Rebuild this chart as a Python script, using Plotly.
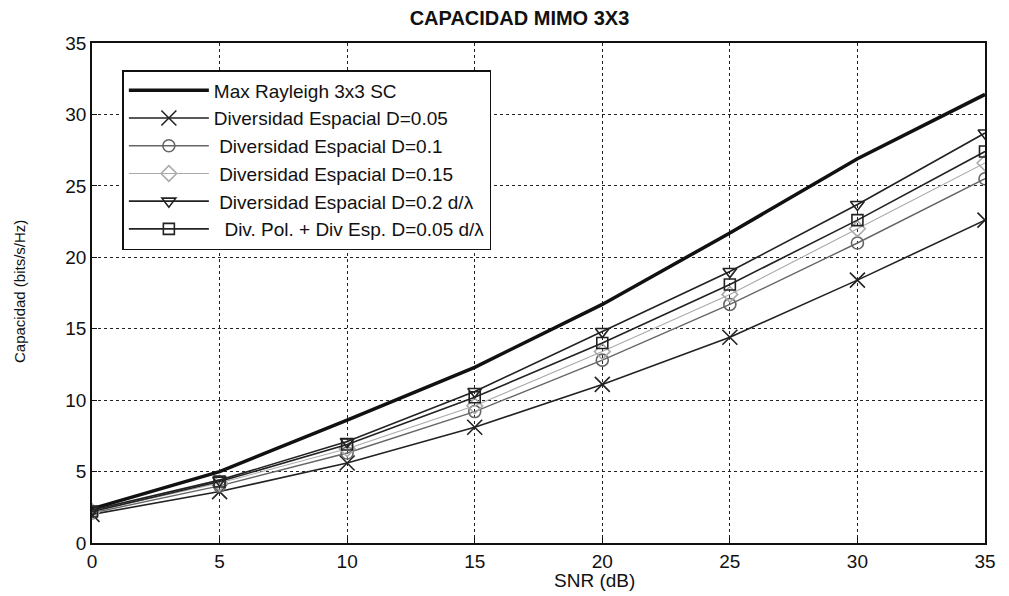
import plotly.graph_objects as go

snr = [0, 5, 10, 15, 20, 25, 30, 35]
max_rayleigh = [2.4, 5.0, 8.6, 12.3, 16.7, 21.7, 26.9, 31.4]
d005 = [2.0, 3.6, 5.6, 8.1, 11.1, 14.4, 18.4, 22.6]
d01 = [2.1, 4.0, 6.3, 9.2, 12.8, 16.7, 21.0, 25.5]
d015 = [2.2, 4.2, 6.6, 9.6, 13.4, 17.4, 22.0, 26.6]
d02 = [2.3, 4.4, 7.1, 10.6, 14.8, 19.0, 23.7, 28.7]
divpol = [2.2, 4.3, 6.9, 10.2, 14.0, 18.1, 22.6, 27.4]

names = [
    "Max Rayleigh 3x3 SC",
    "Diversidad Espacial D=0.05",
    " Diversidad Espacial D=0.1",
    " Diversidad Espacial D=0.15",
    " Diversidad Espacial D=0.2 d/λ",
    "  Div. Pol. + Div Esp. D=0.05 d/λ",
]

fig = go.Figure()
fig.add_trace(go.Scatter(x=snr, y=max_rayleigh, mode="lines", name=names[0],
                         line=dict(color="#111", width=3.5)))
styles = [
    (d005, "x-thin-open", "#222", 1.6, 15),
    (d01, "circle-open", "#666", 1.4, 12),
    (d015, "diamond-open", "#aaa", 1.1, 12),
    (d02, "triangle-down-open", "#222", 1.6, 12),
    (divpol, "square-open", "#222", 1.6, 11),
]
for (ys, sym, col, w, sz), nm in zip(styles, names[1:]):
    fig.add_trace(go.Scatter(x=snr, y=ys, mode="lines+markers", name=nm,
                             line=dict(color=col, width=w),
                             marker=dict(symbol=sym, size=sz, color=col,
                                         line=dict(color=col, width=1.6))))

axis_common = dict(showline=True, linecolor="#111", linewidth=1.8, mirror=True,
                   showgrid=True, gridcolor="#222", griddash="dot", gridwidth=1.2,
                   zeroline=False, ticks="inside", ticklen=5, tickcolor="#111",
                   tickfont=dict(family="Liberation Sans", size=19, color="#111"))

fig.update_layout(
    width=1001, height=588,
    margin=dict(l=84, r=24, t=35, b=53),
    paper_bgcolor="white", plot_bgcolor="white",
    title=dict(text="<b>CAPACIDAD MIMO 3X3</b>", x=0.511, xanchor="center", y=0.983, yanchor="middle",
               font=dict(family="Liberation Sans", size=20, color="#111")),
    xaxis=dict(range=[0, 35], tickvals=[0, 5, 10, 15, 20, 25, 30, 35], **axis_common),
    yaxis=dict(range=[0, 35], tickvals=[0, 5, 10, 15, 20, 25, 30, 35], **axis_common),
    legend=dict(x=0.034, y=0.946, xanchor="left", yanchor="top",
                bgcolor="white", bordercolor="#111", borderwidth=1.5,
                font=dict(family="Liberation Sans", size=19, color="#111"),
                tracegroupgap=0, itemwidth=80),
    showlegend=True,
)
fig.add_annotation(text="SNR (dB)", xref="paper", yref="paper", x=0.563, y=-0.074,
                   xanchor="center", yanchor="middle", showarrow=False,
                   font=dict(family="Liberation Sans", size=19, color="#111"))
fig.add_annotation(text="Capacidad (bits/s/Hz)", xref="paper", yref="paper", x=-0.0817, y=0.502,
                   textangle=-90, xanchor="center", yanchor="middle", showarrow=False,
                   font=dict(family="Liberation Sans", size=15, color="#111"))

fig.write_html("out.html")
